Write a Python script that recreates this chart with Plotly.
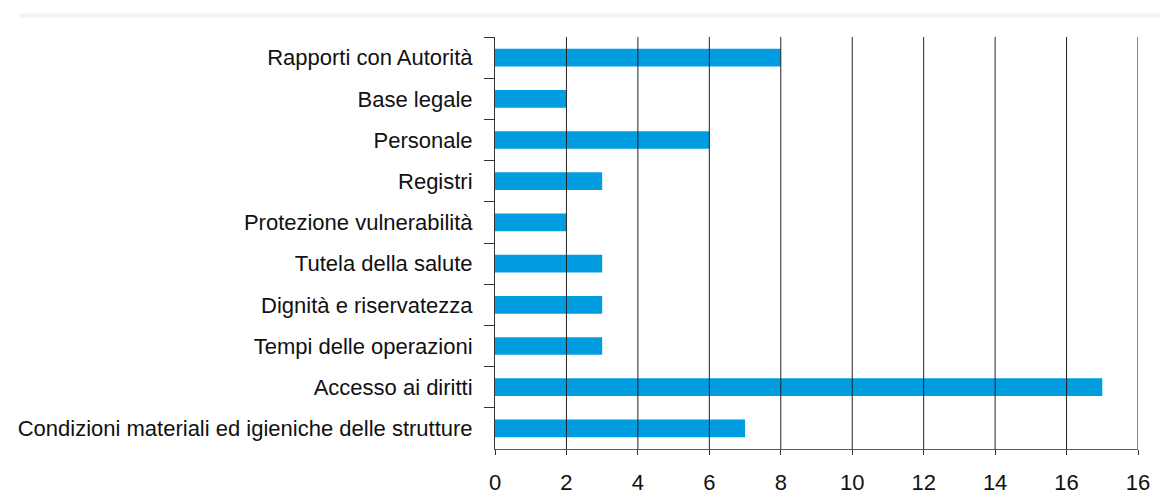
import plotly.graph_objects as go

categories = [
    "Rapporti con Autorità",
    "Base legale",
    "Personale",
    "Registri",
    "Protezione vulnerabilità",
    "Tutela della salute",
    "Dignità e riservatezza",
    "Tempi delle operazioni",
    "Accesso ai diritti",
    "Condizioni materiali ed igieniche delle strutture",
]
values = [8, 2, 6, 3, 2, 3, 3, 3, 17, 7]
tick_vals = [0, 2, 4, 6, 8, 10, 12, 14, 16, 18]
tick_text = ["0", "2", "4", "6", "8", "10", "12", "14", "16", "16"]

fig = go.Figure(go.Bar(
    x=values, y=categories, orientation="h",
    marker=dict(color="#009ee0", line=dict(width=0)),
    width=0.43, hoverinfo="x+y",
))

shapes = []
for v in tick_vals[1:]:
    shapes.append(dict(type="line", xref="x", yref="paper", x0=v, x1=v, y0=0, y1=1,
                       line=dict(color="#222222" if v < 18 else "#888888", width=1 if v < 18 else 2),
                       layer="above"))
# faint header band at top
shapes.append(dict(type="line", xref="paper", yref="paper", x0=-0.74, x1=1.04, y0=1.052, y1=1.052,
                   line=dict(color="#f3f4f6", width=4), layer="below"))

fig.update_layout(
    width=1152, height=487,
    margin=dict(l=487, r=22, t=29, b=46, autoexpand=False),
    paper_bgcolor="white", plot_bgcolor="white",
    font=dict(family="Liberation Sans, Arial, sans-serif", size=22, color="#111111"),
    showlegend=False,
    bargap=0.57,
    shapes=shapes,
    xaxis=dict(
        range=[0, 18], tickvals=tick_vals, ticktext=tick_text,
        showgrid=False, zeroline=False,
        showline=True, linecolor="#555555", linewidth=1,
        ticks="outside", ticklen=5, tickcolor="#333333", ticklabelstandoff=9,
        tickfont=dict(size=22, color="#111111"), fixedrange=True, automargin=False,
    ),
    yaxis=dict(
        categoryorder="array", categoryarray=categories, autorange="reversed",
        showgrid=False, zeroline=False,
        showline=True, linecolor="#333333", linewidth=1,
        ticks="outside", ticklen=10, tickcolor="#333333", tickson="boundaries",
        ticklabelstandoff=17,
        tickfont=dict(size=22, color="#111111"), fixedrange=True, automargin=False,
    ),
)

fig.write_html("out.html")
